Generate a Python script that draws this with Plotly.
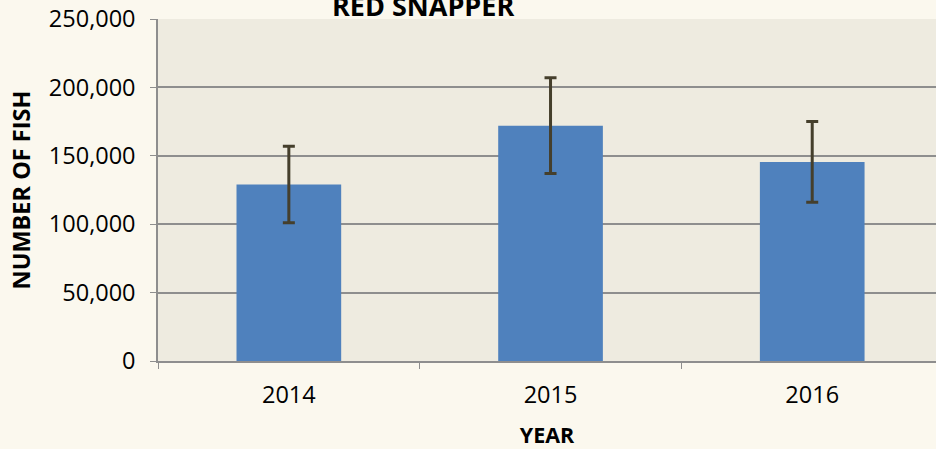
import plotly.graph_objects as go

years = ["2014", "2015", "2016"]
fish = [129000, 172000, 145500]
err = [28000, 35000, 29500]
y_ticks = [0, 50000, 100000, 150000, 200000, 250000]
y_tick_labels = ["0", "50,000", "100,000", "150,000", "200,000", "250,000"]

FONT = "Open Sans, Liberation Sans, Arial"

fig = go.Figure()
fig.add_trace(go.Bar(
    x=years, y=fish, width=0.4,
    marker=dict(color="#4F81BD", line=dict(width=0)),
    error_y=dict(type="data", array=err, visible=True, color="#453F2C",
                 thickness=3, width=6),
))

fig.update_layout(
    width=936, height=449,
    margin=dict(l=158, r=0, t=19, b=88),
    paper_bgcolor="#FBF8EE",
    plot_bgcolor="#EEEBE0",
    showlegend=False,
    font=dict(family=FONT, size=23, color="#000000"),
    xaxis=dict(
        type="category", range=[-0.5, 2.473],
        showline=True, linecolor="#8E8E8E", linewidth=1.5,
        ticks="outside", tickson="boundaries", ticklen=6, tickcolor="#8E8E8E",
        tickfont=dict(size=23.5, family=FONT),
        ticklabelstandoff=12,
        showgrid=False,
        title=dict(text="<b>YEAR</b>", font=dict(size=21.5, family=FONT), standoff=20),
    ),
    yaxis=dict(
        range=[0, 250000], tickvals=y_ticks, ticktext=y_tick_labels,
        showline=True, linecolor="#8E8E8E", linewidth=1.5,
        ticks="outside", ticklen=6, tickcolor="#8E8E8E",
        ticklabelstandoff=10,
        showgrid=True, gridcolor="#8E8E8E", gridwidth=1.5,
        zeroline=False,
        tickfont=dict(size=23.5, family=FONT),
        title=dict(text="<b>NUMBER OF FISH</b>", font=dict(size=23.5, family=FONT), standoff=12),
    ),
)

fig.add_annotation(
    text="<b>RED SNAPPER</b>", xref="paper", yref="paper",
    x=(423 - 158) / 778, y=1.0, yanchor="bottom", yshift=-7,
    showarrow=False, font=dict(size=27, family=FONT, color="#000000"),
)

fig.write_html(
    "out.html",
    config={"displayModeBar": False},
    post_script="document.body.style.margin='0';document.body.style.padding='0';"
                "document.body.style.overflow='hidden';",
)
